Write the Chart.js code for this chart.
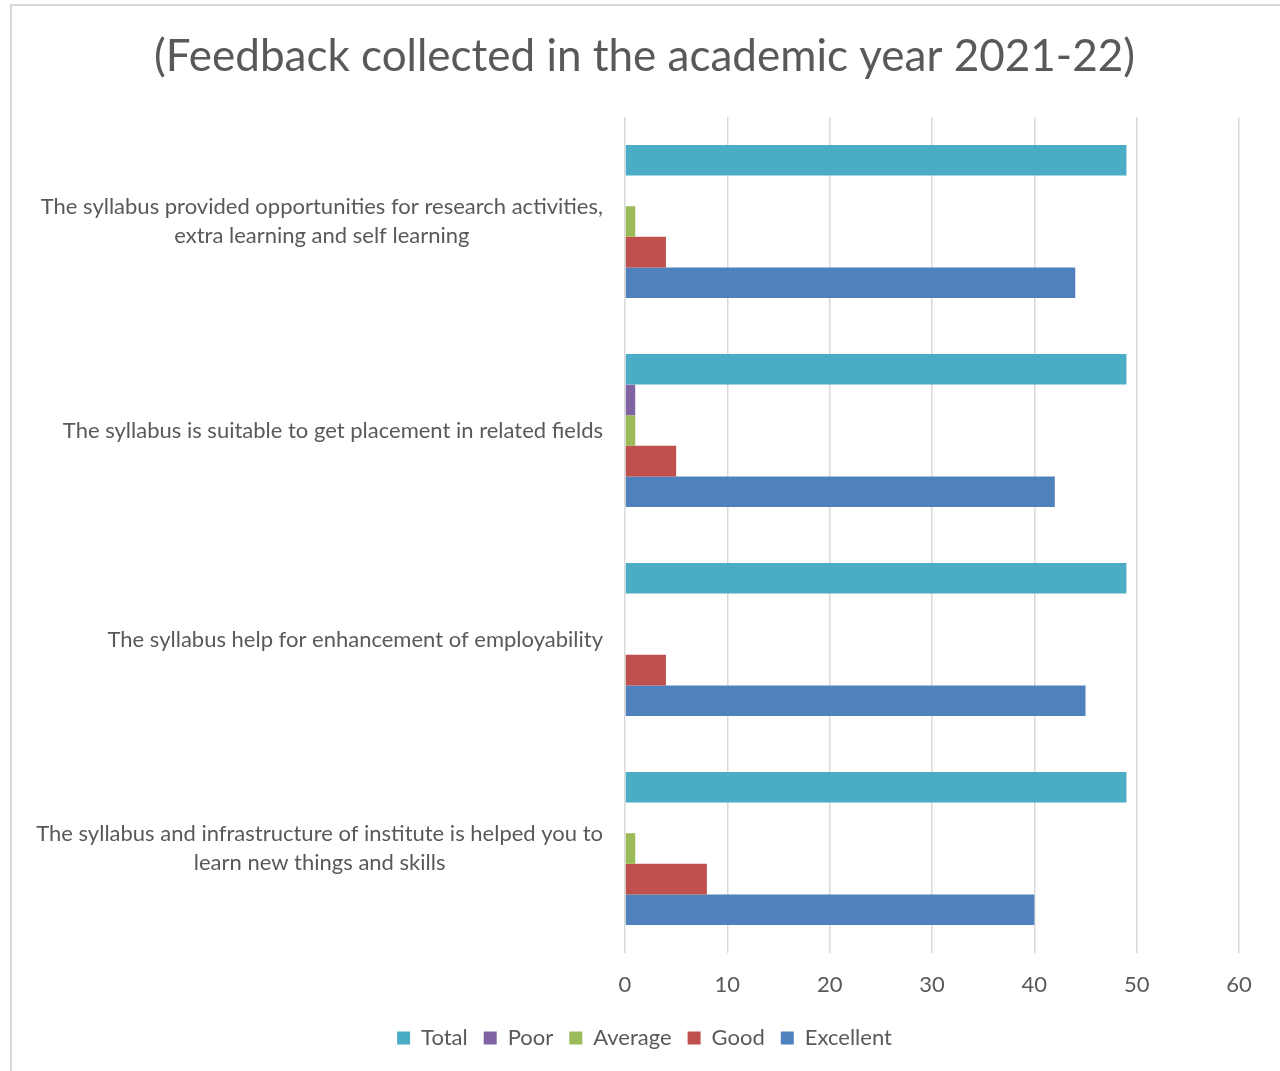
<!DOCTYPE html>
<html>
<head>
<meta charset="utf-8">
<script src="https://cdn.jsdelivr.net/npm/chart.js@4"></script>
<style>
  body { margin: 0; background: #fff; overflow: hidden; }
  #frame { position: absolute; left: 10px; top: 4px; width: 1400px; height: 1200px; border: 2px solid #d9d9d9; }
  #myChart { position: absolute; left: 0; top: 0; }
</style>
</head>
<body>
<div id="frame"></div>
<canvas id="myChart" width="1280" height="1071"></canvas>
<script>
const categories = [
  ['The syllabus provided opportunities for research activities,', 'extra learning and self learning'],
  ['The syllabus is suitable to get placement in related fields'],
  ['The syllabus help for enhancement of employability'],
  ['The syllabus and infrastructure of institute is helped you to', 'learn new things and skills']
];
const totalValues = [49, 49, 49, 49];
const poorValues = [0, 1, 0, 0];
const averageValues = [1, 1, 0, 1];
const goodValues = [4, 5, 4, 8];
const excellentValues = [44, 42, 45, 40];
const xTicks = [0, 10, 20, 30, 40, 50, 60];

const textColor = '#595959';
const fontFamily = 'Lato, "Open Sans", sans-serif';

// draws the category labels: each block right aligned, its lines centred on each other
const categoryLabels = {
  id: 'categoryLabels',
  afterDraw(chart) {
    const ctx = chart.ctx;
    const yScale = chart.scales.y;
    const right = chart.chartArea.left - 22;
    const lineH = 29;
    ctx.save();
    ctx.font = '22px ' + fontFamily;
    ctx.fillStyle = textColor;
    ctx.textAlign = 'center';
    ctx.textBaseline = 'middle';
    categories.forEach((lines, i) => {
      const y = yScale.getPixelForTick(i);
      const w = Math.max(...lines.map(l => ctx.measureText(l).width));
      const cx = right - w / 2;
      lines.forEach((line, j) => {
        ctx.fillText(line, cx, y + (j - (lines.length - 1) / 2) * lineH);
      });
    });
    ctx.restore();
  }
};

const ctx = document.getElementById('myChart').getContext('2d');
const myChart = new Chart(ctx, {
  type: 'bar',
  data: {
    labels: categories,
    datasets: [
      { label: 'Total', data: totalValues, backgroundColor: '#4bacc6' },
      { label: 'Poor', data: poorValues, backgroundColor: '#8064a2' },
      { label: 'Average', data: averageValues, backgroundColor: '#9bbb59' },
      { label: 'Good', data: goodValues, backgroundColor: '#c0504d' },
      { label: 'Excellent', data: excellentValues, backgroundColor: '#4f81bd' }
    ]
  },
  options: {
    indexAxis: 'y',
    responsive: false,
    animation: false,
    datasets: {
      bar: { categoryPercentage: 0.732, barPercentage: 1, borderWidth: 0 }
    },
    layout: { padding: { left: 50, right: 41, top: 0, bottom: 12 } },
    scales: {
      x: {
        min: 0,
        max: 60,
        afterBuildTicks: scale => { scale.ticks = xTicks.map(v => ({ value: v })); },
        afterFit: scale => { scale.height = 58; },
        grid: { color: '#d9d9d9', lineWidth: 1.5, drawTicks: false },
        border: { display: false },
        ticks: { color: textColor, padding: 18.8, font: { family: fontFamily, size: 22 } }
      },
      y: {
        afterFit: scale => { scale.width = 625 - 50; },
        grid: { display: false },
        border: { display: false },
        ticks: { display: false }
      }
    },
    plugins: {
      title: {
        display: true,
        text: '(Feedback collected in the academic year 2021-22)',
        color: textColor,
        font: { family: fontFamily, size: 44, weight: 'normal' },
        padding: { top: 30.6, bottom: 33.6 }
      },
      legend: {
        display: true,
        position: 'bottom',
        labels: {
          color: textColor,
          boxWidth: 13,
          boxHeight: 13,
          padding: 16,
          font: { family: fontFamily, size: 22 }
        }
      },
      tooltip: { enabled: false }
    }
  },
  plugins: [categoryLabels]
});
</script>
</body>
</html>
